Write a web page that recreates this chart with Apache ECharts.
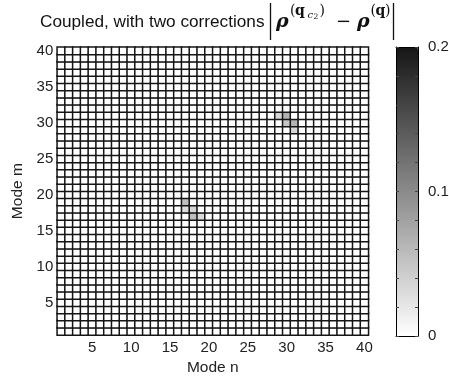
<!DOCTYPE html>
<html><head><meta charset="utf-8">
<script src="https://cdn.jsdelivr.net/npm/echarts@6/dist/echarts.min.js"></script>
<style>html,body{margin:0;padding:0;background:#fff}#c{width:449px;height:377px}</style>
</head><body><div id="c"></div>
<script>
// categories (mode numbers)
const modeN = [1,2,3,4,5,6,7,8,9,10,11,12,13,14,15,16,17,18,19,20,21,22,23,24,25,26,27,28,29,30,31,32,33,34,35,36,37,38,39,40];
const modeM = [1,2,3,4,5,6,7,8,9,10,11,12,13,14,15,16,17,18,19,20,21,22,23,24,25,26,27,28,29,30,31,32,33,34,35,36,37,38,39,40];
// non-zero cells of |rho(q_c2) - rho(q)| (all other cells are 0)
const hotN = [29, 30, 30, 31, 31, 17, 17, 18, 18, 19];
const hotM = [31, 31, 30, 30, 29, 19, 18, 18, 17, 17];
const hotV = [0.035, 0.065, 0.05, 0.065, 0.035, 0.055, 0.03, 0.035, 0.055, 0.03];
const colorTicks = [0, 0.1, 0.2];

const data = [];
for (let i = 0; i < modeN.length; i++) {
  for (let j = 0; j < modeM.length; j++) {
    let v = 0;
    for (let k = 0; k < hotN.length; k++) {
      if (hotN[k] === modeN[i] && hotM[k] === modeM[j]) v = hotV[k];
    }
    data.push([i, j, v]);
  }
}

const chart = echarts.init(document.getElementById('c'), null, {renderer: 'canvas'});
const sans = 'Liberation Sans, Arial, Helvetica, sans-serif';
const serif = '"DejaVu Serif", serif';
chart.setOption({
  animation: false,
  backgroundColor: '#fff',
  grid: [
    {left: 57.3, top: 47.3, width: 311, height: 287.7, containLabel: false, outerBoundsMode: 'none'},
    {left: 396, top: 47, width: 22, height: 289, containLabel: false, outerBoundsMode: 'none'}
  ],
  xAxis: [
    {type: 'category', gridIndex: 0, data: modeN, name: 'Mode n', nameLocation: 'middle', nameGap: 22,
     nameTextStyle: {fontSize: 15.5, color: '#222', fontFamily: sans},
     axisLine: {show: false}, axisTick: {show: false}, splitLine: {show: false},
     axisLabel: {interval: function (idx, v) { return Number(v) % 5 === 0; }, fontSize: 15, color: '#222', fontFamily: sans, margin: 5}},
    {type: 'value', gridIndex: 1, min: 0, max: 1, position: 'bottom', z: 10,
     axisLine: {show: true, onZero: false, lineStyle: {color: '#000', width: 1}}, axisTick: {show: false}, axisLabel: {show: false}, splitLine: {show: false}},
    {type: 'value', gridIndex: 1, min: 0, max: 1, position: 'top', z: 10,
     axisLine: {show: true, onZero: false, lineStyle: {color: '#000', width: 1}}, axisTick: {show: false}, axisLabel: {show: false}, splitLine: {show: false}}
  ],
  yAxis: [
    {type: 'category', gridIndex: 0, data: modeM, name: 'Mode m', nameLocation: 'middle', nameGap: 31,
     nameTextStyle: {fontSize: 15.5, color: '#222', fontFamily: sans},
     axisLine: {show: false}, axisTick: {show: false}, splitLine: {show: false},
     axisLabel: {interval: function (idx, v) { return Number(v) % 5 === 0; }, fontSize: 15, color: '#222', fontFamily: sans, margin: 4}},
    {type: 'value', gridIndex: 1, min: 0, max: 0.2, interval: 0.02, position: 'right', z: 10,
     axisLine: {show: true, onZero: false, lineStyle: {color: '#000', width: 1}},
     axisTick: {show: true, inside: true, length: 3, lineStyle: {color: '#444'}},
     splitLine: {show: false},
     axisLabel: {fontSize: 15, color: '#222', fontFamily: sans, margin: 10,
       formatter: function (v) { for (const t of colorTicks) { if (Math.abs(v - t) < 1e-6) return String(t); } return ''; }}},
    {type: 'value', gridIndex: 1, min: 0, max: 0.2, interval: 0.02, position: 'left', z: 10,
     axisLine: {show: true, onZero: false, lineStyle: {color: '#000', width: 1}},
     axisTick: {show: true, inside: true, length: 3, lineStyle: {color: '#444'}},
     splitLine: {show: false}, axisLabel: {show: false}}
  ],
  visualMap: {
    type: 'continuous', min: 0, max: 0.2, seriesIndex: 0, calculable: false, realtime: false,
    orient: 'vertical', left: 396, top: 47, itemWidth: 22, itemHeight: 289, padding: 0,
    text: null, showLabel: false, hoverLink: false,
    inRange: {color: ['#ffffff', '#161616']}
  },
  series: [
    {type: 'heatmap', xAxisIndex: 0, yAxisIndex: 0, data: data,
     itemStyle: {borderColor: '#151515', borderWidth: 1.5}, emphasis: {disabled: true}},
    {type: 'scatter', xAxisIndex: 1, yAxisIndex: 1, data: [], silent: true}
  ],
  graphic: [
    {type: 'text', x: 40, y: 22.5, style: {text: 'Coupled, with two corrections', font: '17.2px ' + sans, fill: '#111', verticalAlign: 'middle'}},
    {type: 'line', shape: {x1: 270.5, y1: 3, x2: 270.5, y2: 40}, style: {stroke: '#111', lineWidth: 1.3}},
    {type: 'text', x: 276, y: 22.5, style: {text: 'ρ', font: 'italic bold 19px ' + serif, fill: '#111', verticalAlign: 'middle'}},
    {type: 'text', x: 290, y: 11, style: {text: '(', font: '14px ' + serif, fill: '#111', verticalAlign: 'middle'}},
    {type: 'text', x: 295, y: 11.5, style: {text: 'q', font: 'bold 14px ' + serif, fill: '#111', verticalAlign: 'middle'}},
    {type: 'text', x: 307.5, y: 15, style: {text: 'c', font: 'italic 10px ' + serif, fill: '#111', verticalAlign: 'middle'}},
    {type: 'text', x: 313.5, y: 17, style: {text: '2', font: '7.5px ' + serif, fill: '#111', verticalAlign: 'middle'}},
    {type: 'text', x: 319.5, y: 11, style: {text: ')', font: '14px ' + serif, fill: '#111', verticalAlign: 'middle'}},
    {type: 'text', x: 336, y: 22, style: {text: '−', font: '18px ' + serif, fill: '#111', verticalAlign: 'middle'}},
    {type: 'text', x: 357, y: 22.5, style: {text: 'ρ', font: 'italic bold 19px ' + serif, fill: '#111', verticalAlign: 'middle'}},
    {type: 'text', x: 370.5, y: 11, style: {text: '(', font: '14px ' + serif, fill: '#111', verticalAlign: 'middle'}},
    {type: 'text', x: 375.5, y: 11.5, style: {text: 'q', font: 'bold 14px ' + serif, fill: '#111', verticalAlign: 'middle'}},
    {type: 'text', x: 385, y: 11, style: {text: ')', font: '14px ' + serif, fill: '#111', verticalAlign: 'middle'}},
    {type: 'line', shape: {x1: 393.5, y1: 3, x2: 393.5, y2: 40}, style: {stroke: '#111', lineWidth: 1.3}}
  ]
});
</script>
</body></html>
